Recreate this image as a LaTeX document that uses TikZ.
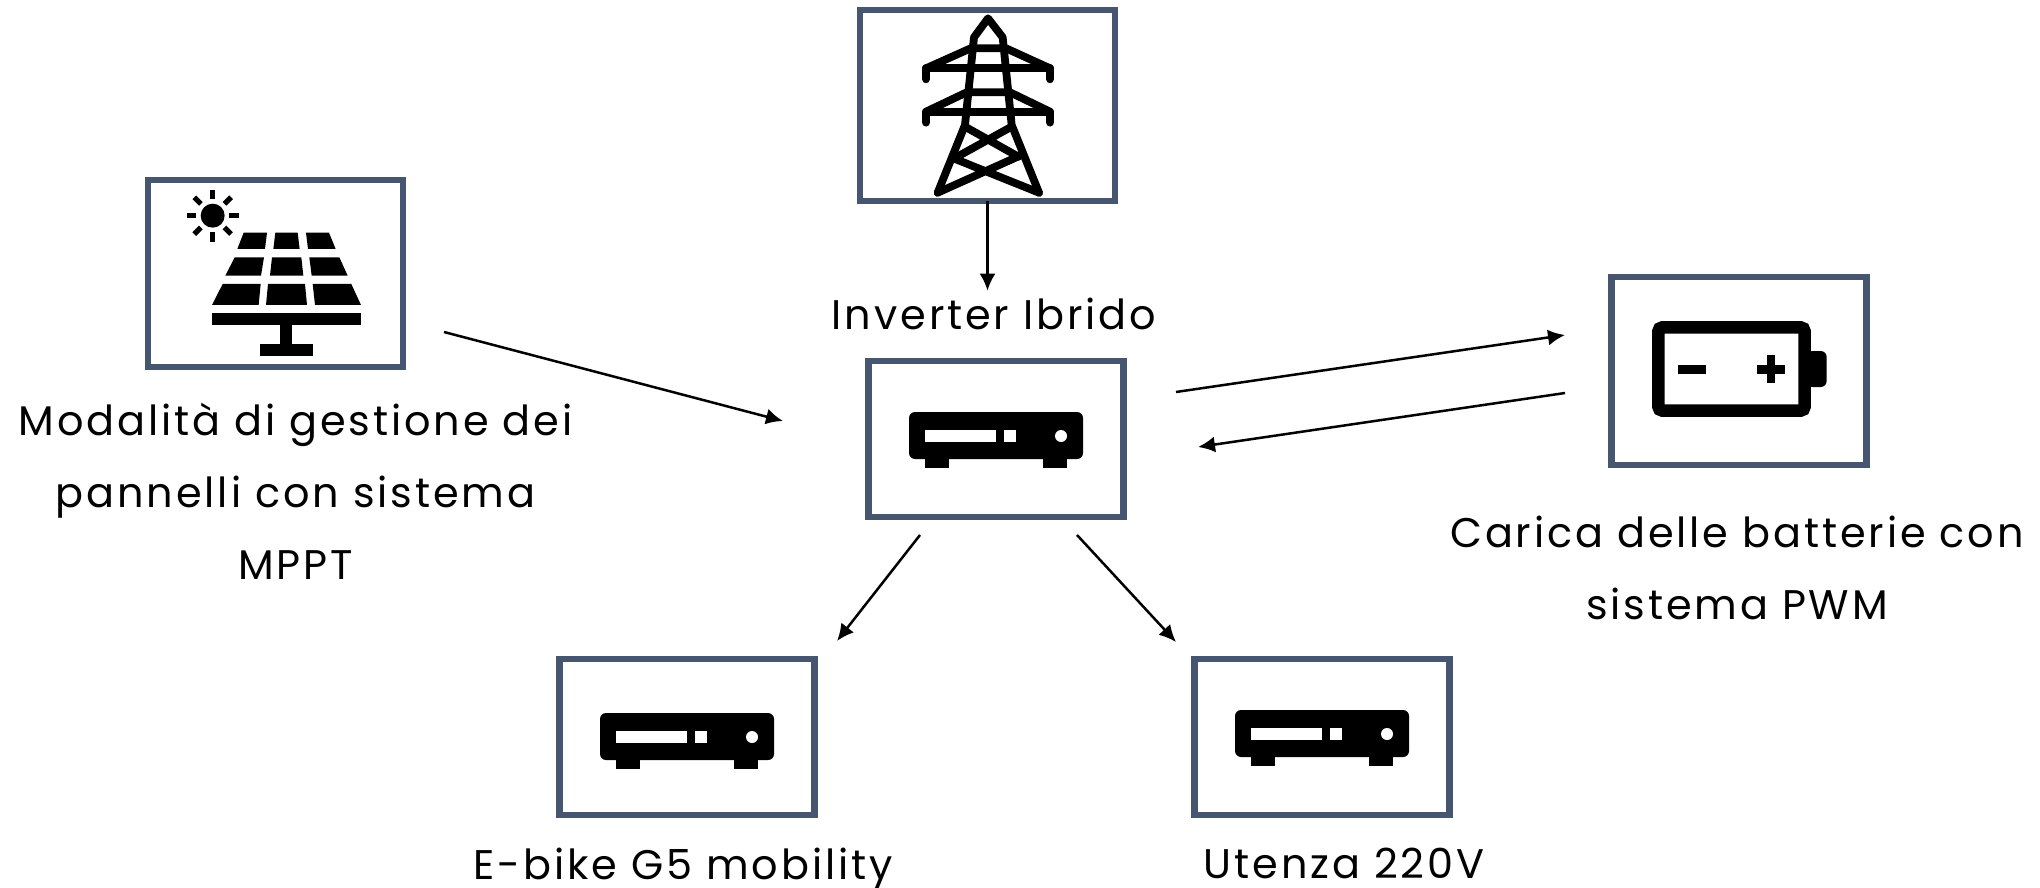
\documentclass[tikz,border=0pt]{standalone}
\usepackage{fontspec}
\setmainfont[LetterSpace=7]{Poppins}
\usetikzlibrary{positioning,arrows.meta}
\definecolor{boxblue}{HTML}{475670}
\tikzset{
  iconbox/.style={draw=boxblue,line width=3.4pt,fill=white,minimum width=127.5pt,inner sep=0pt,outer sep=0pt},
  caption/.style={align=center,font=\fontsize{20.7}{36}\selectfont,inner sep=0pt},
  flow/.style={-{Latex[length=8.5pt,width=8pt]},line width=1.25pt},
  towerline/.style={line width=3.9pt,line cap=round,line join=round}
}
% receiver icon, around the centre of its box
\newcommand{\deviceicon}[2][0pt]{
  \begin{scope}[shift={(#2)},yshift=#1]
    \fill[rounded corners=3pt] (-87,-27) rectangle (87,20);
    \fill (-71,15) rectangle (-47,29);
    \fill (47,15) rectangle (71,29);
    \fill[white] (-71,-9) rectangle (0,3);
    \fill[white] (8,-9) rectangle (20,3);
    \fill[white] (65,-3) circle (6);
  \end{scope}
}
\begin{document}
\begin{tikzpicture}[x=0.5pt,y=-0.5pt,on grid]
  \useasboundingbox (0,0) rectangle (2040,888);

  \node[iconbox,minimum height=78pt] (inverter) at (996,439) {};
  \node[iconbox,minimum height=95.5pt] (tower) [above left=166.75pt and 4.25pt of inverter] {};
  \node[iconbox,minimum height=93.5pt] (solar) [above left=82.75pt and 360.25pt of inverter] {};
  \node[iconbox,minimum height=94pt] (battery) [above right=34pt and 371.5pt of inverter] {};
  \node[iconbox,minimum height=78pt] (ebike) [below left=149pt and 154.5pt of inverter] {};
  \node[iconbox,minimum height=78pt] (utenza) [below right=149pt and 163pt of inverter] {};

  \node[caption] (solarlabel) [below right=109pt and 10pt of solar] {Modalità di gestione dei\\pannelli con sistema\\MPPT};
  \node[caption] (inverterlabel) [above left=62.5pt and 1pt of inverter] {Inverter Ibrido};
  \node[caption] (batterylabel) [below left=98.5pt and 1pt of battery] {Carica delle batterie con\\sistema PWM};
  \node[caption] (ebikelabel) [below left=66pt and 2pt of ebike] {E-bike G5 mobility};
  \node[caption] (utenzalabel) [below right=63pt and 11pt of utenza] {Utenza 220V};

  % solar panel
  \begin{scope}[shift={(130,165)},scale=1/3]
    \fill (248,152) circle (36);
    \foreach \ang in {0,45,...,315}
      \draw[line width=2.6pt] (\ang:50) ++(248,152) -- ++(\ang:28);
    \fill (341,203) -- (411,203) -- (405,252) -- (322,252) -- cycle;
    \fill (436,203) -- (503,203) -- (509,252) -- (430,252) -- cycle;
    \fill (528,203) -- (597,203) -- (617,252) -- (534,252) -- cycle;
    \fill (314,277) -- (402,277) -- (393,332) -- (286,332) -- cycle;
    \fill (426,277) -- (514,277) -- (520,332) -- (420,332) -- cycle;
    \fill (538,277) -- (628,277) -- (653,332) -- (545,332) -- cycle;
    \fill (278,357) -- (392,357) -- (386,420) -- (246,420) -- cycle;
    \fill (414,357) -- (525,357) -- (531,420) -- (408,420) -- cycle;
    \fill (548,357) -- (664,357) -- (693,420) -- (555,420) -- cycle;
    \fill (246,444) rectangle (694,481);
    \fill (451,481) rectangle (487,538);
    \fill (389,538) rectangle (550,574);
  \end{scope}

  % pylon
  \begin{scope}[shift={(850,0)},scale=1/3,towerline]
    \draw (263,578) -- (345,375) -- (372,112) -- (414,55) -- (458,112) -- (485,375) -- (567,578);
    \draw (263,578) -- (510,467) (567,578) -- (318,478);
    \draw (345,380) -- (505,470) (485,380) -- (322,470);
    \draw (228,238) -- (228,205) -- (362,145) -- (468,145) -- (600,205) -- (600,238);
    \draw (228,205) -- (600,205);
    \draw (228,368) -- (228,335) -- (350,277) -- (480,277) -- (600,335) -- (600,368);
    \draw (228,335) -- (600,335);
  \end{scope}

  % battery
  \begin{scope}[shift={(1600,270)},scale=1/3]
    \fill[rounded corners=3pt] (620,243) -- (680,243) -- (680,351) -- (620,351) -- cycle;
    \draw[line width=6.2pt,rounded corners=2pt,fill=white] (175,172) rectangle (614,422);
    \fill (234,285) rectangle (318,311);
    \fill (472,285) rectangle (555,311);
    \fill (501,256) rectangle (526,340);
  \end{scope}

  \deviceicon{inverter.center}
  \deviceicon[-1.5pt]{ebike.center}
  \deviceicon{utenza.center}

  \coordinate (solarout) at (444,332);
  \coordinate (solarin) at (783,421);
  \coordinate (battin) at (1565,335);
  \coordinate (invout) at (1176,392);
  \coordinate (battout) at (1565,393);
  \coordinate (invin) at (1198,447);
  \coordinate (ebikeout) at (920,535);
  \coordinate (ebikein) at (837,641);
  \coordinate (utenzaout) at (1077,535);
  \coordinate (utenzain) at (1176,642);

  \draw[flow,shorten >=3.5pt] (tower.south) -- (tower.south |- inverterlabel.north);
  \draw[flow] (solarout) -- (solarin);
  \draw[flow] (invout) -- (battin);
  \draw[flow] (battout) -- (invin);
  \draw[flow] (ebikeout) -- (ebikein);
  \draw[flow] (utenzaout) -- (utenzain);
\end{tikzpicture}
\end{document}
